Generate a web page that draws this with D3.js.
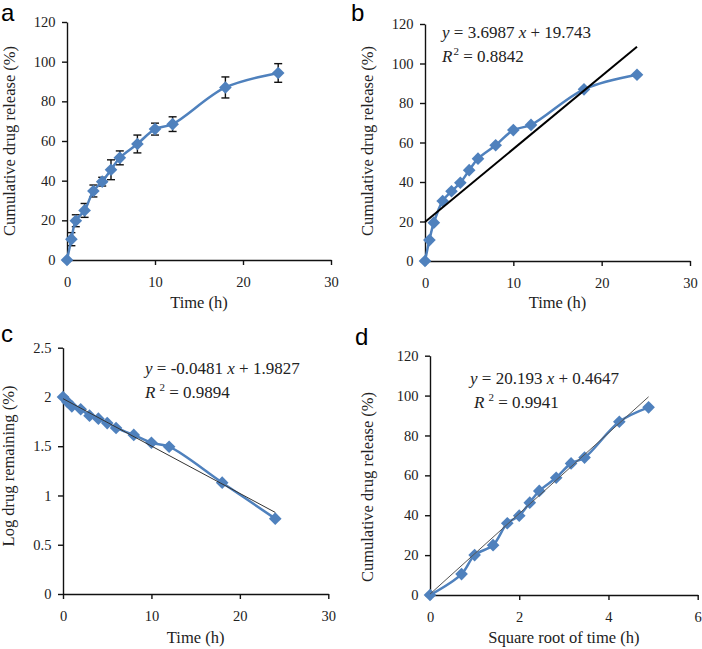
<!DOCTYPE html>
<html><head><meta charset="utf-8">
<script src="https://cdn.jsdelivr.net/npm/d3@7"></script>
<style>
body{margin:0;background:#fff;}
svg text{font-family:"Liberation Serif","Times New Roman",serif;fill:#222;}
svg text.lbl{font-family:"Liberation Sans",Arial,sans-serif;fill:#000;}
</style></head>
<body><svg id="c" width="702" height="649"></svg>
<script>
// ---- data ----
const timeH = [0, 0.5, 1, 2, 3, 4, 5, 6, 8, 10, 12, 18, 24];
const sqrtTime = [0, 0.707, 1, 1.414, 1.732, 2, 2.236, 2.449, 2.828, 3.162, 3.464, 4.243, 4.899];
const releaseA = [0, 10.5, 19.8, 25, 34.8, 39.5, 45.5, 51.5, 58.5, 66, 68.5, 87, 94.3];
const errorA = [0, 3.3, 3, 3.5, 3, 2.2, 5, 3.5, 4.5, 3, 3.7, 5.3, 4.7];
const releaseB = [0, 10.6, 19.4, 30.4, 35.3, 39.6, 46, 51.8, 58.6, 66.3, 68.9, 86.9, 94.3];
const logRemainC = [2.0, 1.95, 1.905, 1.875, 1.81, 1.78, 1.735, 1.685, 1.615, 1.535, 1.495, 1.13, 0.765];
const releaseD = [0, 10.5, 20, 25, 36, 39.8, 46.3, 52.2, 58.8, 66, 68.9, 86.9, 94.1];
const fitB = {slope: 3.6987, intercept: 19.743, r2: "0.8842", x0: 0, x1: 24};
const fitC = {slope: -0.0481, intercept: 1.9827, r2: "0.9894", x0: 0, x1: 24};
const fitD = {slope: 20.193, intercept: 0.4647, r2: "0.9941", x0: 0, x1: 4.899};
const ticksTime = [0, 10, 20, 30];
const ticksSqrt = [0, 2, 4, 6];
const ticksRelease = [0, 20, 40, 60, 80, 100, 120];
const ticksLog = [0, 0.5, 1, 1.5, 2, 2.5];

const svg = d3.select("#c");
const BLUE = "#4f81bd";

function panel(o){
  const g = svg.append("g");
  const x = d3.scaleLinear().domain(o.xDom).range([o.x0, o.x1]);
  const y = d3.scaleLinear().domain(o.yDom).range([o.y0, o.y1]);
  const xa = g.append("g").attr("transform", `translate(0,${o.y0})`)
    .call(d3.axisBottom(x).tickValues(o.xTicks).tickSize(5).tickSizeOuter(0).tickFormat(d3.format("")));
  const ya = g.append("g").attr("transform", `translate(${o.x0},0)`)
    .call(d3.axisLeft(y).tickValues(o.yTicks).tickSize(5).tickSizeOuter(0).tickFormat(d3.format("")));
  [xa, ya].forEach(a => {
    a.attr("font-family", null);
    a.selectAll("path,line").attr("stroke", "#111").attr("stroke-width", 1.4);
    a.selectAll("text").attr("font-size", "14.5px").attr("fill", "#222");
  });
  xa.selectAll("text").attr("dy", "1.3em");
  ya.selectAll("text").attr("dx", "-0.25em");
  g.append("text").attr("x", (o.x0 + o.x1) / 2).attr("y", o.xTitleY).attr("text-anchor", "middle")
    .attr("font-size", "16.5px").text(o.xTitle);
  g.append("text").attr("transform", `translate(${o.yTitleX},${o.yTitleC}) rotate(-90)`).attr("text-anchor", "middle")
    .attr("font-size", "16.5px").text(o.yTitle);
  g.append("text").attr("class", "lbl").attr("x", o.lx).attr("y", o.ly)
    .attr("font-size", "24px").text(o.letter);
  const pts = o.xs.map((v, i) => [v, o.ys[i]]);
  if (o.err) {
    pts.forEach((p, i) => {
      const e = o.err[i]; if (!e) return;
      const cx = x(p[0]);
      const eg = g.append("g").attr("stroke", "#111").attr("stroke-width", 1.4);
      eg.append("line").attr("x1", cx).attr("x2", cx).attr("y1", y(p[1] - e)).attr("y2", y(p[1] + e));
      eg.append("line").attr("x1", cx - 4).attr("x2", cx + 4).attr("y1", y(p[1] - e)).attr("y2", y(p[1] - e));
      eg.append("line").attr("x1", cx - 4).attr("x2", cx + 4).attr("y1", y(p[1] + e)).attr("y2", y(p[1] + e));
    });
  }
  g.append("path").datum(pts).attr("fill", "none").attr("stroke", BLUE).attr("stroke-width", 2.5)
    .attr("d", d3.line().x(d => x(d[0])).y(d => y(d[1])).curve(d3.curveCatmullRom.alpha(0.5)));
  g.selectAll("path.m").data(pts).enter().append("path").attr("class", "m")
    .attr("d", d3.symbol().type(d3.symbolSquare).size(80))
    .attr("transform", d => `translate(${x(d[0])},${y(d[1])}) rotate(45)`)
    .attr("fill", BLUE);
  if (o.fit) {
    const f = o.fit;
    g.append("line").attr("x1", x(f.x0)).attr("y1", y(f.slope * f.x0 + f.intercept))
      .attr("x2", x(f.x1)).attr("y2", y(f.slope * f.x1 + f.intercept))
      .attr("stroke", o.fitColor).attr("stroke-width", o.fitWidth);
    const t1 = g.append("text").attr("x", o.eqX).attr("y", o.eqY).attr("font-size", "17px");
    t1.append("tspan").attr("font-style", "italic").text("y");
    const sign = f.intercept >= 0 ? " + " : " - ";
    t1.append("tspan").text(" = " + f.slope + " ");
    t1.append("tspan").attr("font-style", "italic").text("x");
    t1.append("tspan").text(sign + Math.abs(f.intercept));
    const t2 = g.append("text").attr("x", o.r2X).attr("y", o.eqY + o.r2Dy).attr("font-size", "17px");
    t2.append("tspan").attr("font-style", "italic").text("R");
    t2.append("tspan").attr("font-size", "11px").attr("dy", "-7").attr("dx", o.supDx).text("2");
    t2.append("tspan").attr("dy", "7").text(" = " + f.r2);
  }
}

panel({letter: "a", lx: 1, ly: 21,
  xDom: [0, 30], yDom: [0, 120], x0: 67, x1: 331, y0: 260, y1: 22,
  xTicks: ticksTime, yTicks: ticksRelease,
  xTitle: "Time (h)", xTitleY: 308, yTitle: "Cumulative drug release (%)", yTitleX: 15, yTitleC: 141,
  xs: timeH, ys: releaseA, err: errorA});

panel({letter: "b", lx: 351, ly: 21,
  xDom: [0, 30], yDom: [0, 120], x0: 425, x1: 690, y0: 261, y1: 24,
  xTicks: ticksTime, yTicks: ticksRelease,
  xTitle: "Time (h)", xTitleY: 308, yTitle: "Cumulative drug release (%)", yTitleX: 373, yTitleC: 141,
  xs: timeH, ys: releaseB, fit: fitB, fitColor: "#000", fitWidth: 2,
  eqX: 442, eqY: 38, r2X: 442, r2Dy: 24, supDx: 1});

panel({letter: "c", lx: 1, ly: 342,
  xDom: [0, 30], yDom: [0, 2.5], x0: 63, x1: 328.3, y0: 594, y1: 347.7,
  xTicks: ticksTime, yTicks: ticksLog,
  xTitle: "Time (h)", xTitleY: 643, yTitle: "Log drug remaining (%)", yTitleX: 14, yTitleC: 466,
  xs: timeH, ys: logRemainC, fit: fitC, fitColor: "#333", fitWidth: 1,
  eqX: 145, eqY: 374, r2X: 145, r2Dy: 24, supDx: 4});

panel({letter: "d", lx: 355, ly: 345,
  xDom: [0, 6], yDom: [0, 120], x0: 430, x1: 697.7, y0: 595, y1: 355.7,
  xTicks: ticksSqrt, yTicks: ticksRelease,
  xTitle: "Square root of time (h)", xTitleY: 643, yTitle: "Cumulative drug release (%)", yTitleX: 373, yTitleC: 487,
  xs: sqrtTime, ys: releaseD, fit: fitD, fitColor: "#555", fitWidth: 1,
  eqX: 470, eqY: 384, r2X: 474, r2Dy: 24, supDx: 4});
</script></body></html>
